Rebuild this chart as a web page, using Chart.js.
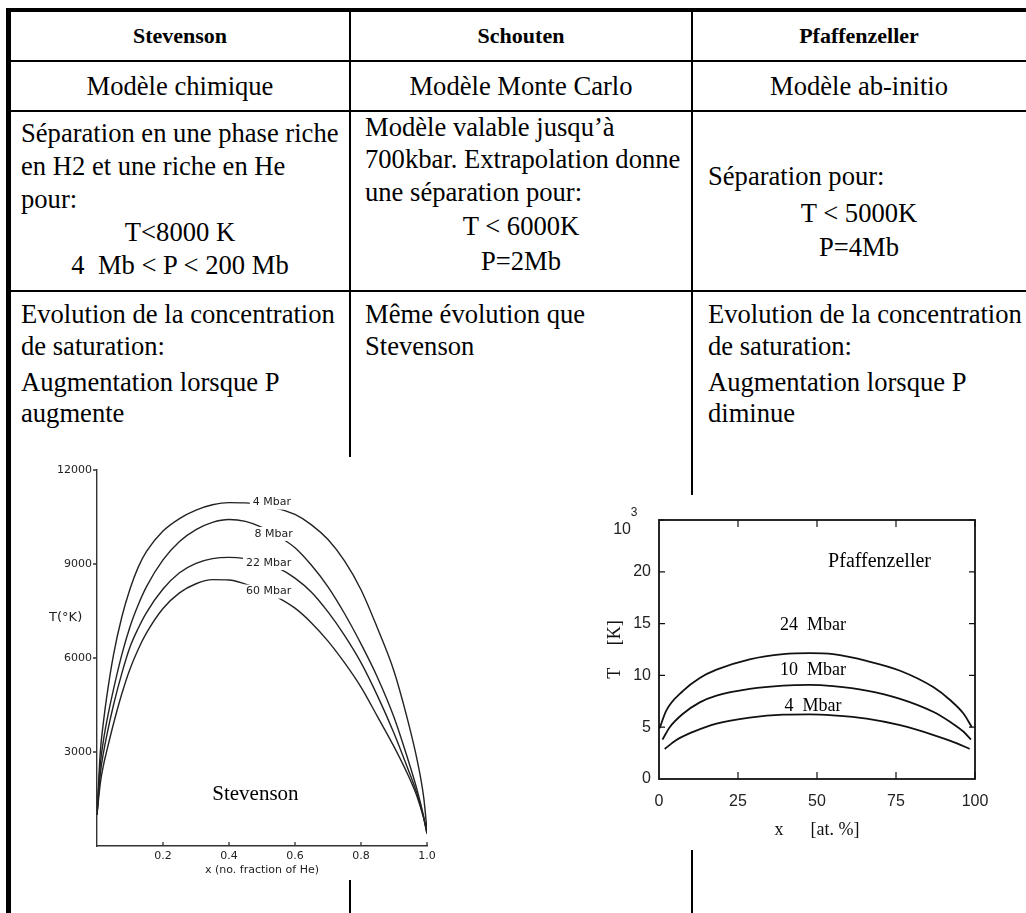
<!DOCTYPE html>
<html>
<head>
<meta charset="utf-8">
<script src="https://cdn.jsdelivr.net/npm/chart.js@4.4.1/dist/chart.umd.min.js"></script>
<style>
  body { margin: 0; background: #fff; }
  #page { position: relative; width: 1026px; height: 913px; overflow: hidden;
          font-family: "Liberation Serif", "Times New Roman", serif; font-size: 26.6px; color: #000; }
  .ln { position: absolute; background: #000; }
  .t { position: absolute; white-space: pre; line-height: 30px; height: 30px; }
  .c { transform: translateX(-50%); }
  .b { font-weight: bold; font-size: 22px; }
  canvas { position: absolute; background: #fff; }
</style>
</head>
<body>
<div id="page">
  <!-- table frame -->
  <div class="ln" style="left:6px;top:8px;width:1020px;height:4px"></div>
  <div class="ln" style="left:6px;top:8px;width:5px;height:905px"></div>
  <div class="ln" style="left:11px;top:60px;width:1015px;height:2px"></div>
  <div class="ln" style="left:11px;top:110px;width:1015px;height:2px"></div>
  <div class="ln" style="left:11px;top:290px;width:1015px;height:2px"></div>
  <div class="ln" style="left:349px;top:12px;width:2px;height:901px"></div>
  <div class="ln" style="left:691px;top:12px;width:2px;height:901px"></div>

  <div class="t c b" style="left:180px;top:21px">Stevenson</div>
  <div class="t c b" style="left:521px;top:21px">Schouten</div>
  <div class="t c b" style="left:859px;top:21px">Pfaffenzeller</div>

  <div class="t c" style="left:180px;top:71px">Modèle chimique</div>
  <div class="t c" style="left:521px;top:71px">Modèle Monte Carlo</div>
  <div class="t c" style="left:859px;top:71px">Modèle ab-initio</div>

  <div class="t" style="left:21px;top:118px">Séparation en une phase riche</div>
  <div class="t" style="left:21px;top:151px">en H2 et une riche en He</div>
  <div class="t" style="left:21px;top:184px">pour:</div>
  <div class="t c" style="left:180px;top:217px">T&lt;8000 K</div>
  <div class="t c" style="left:180px;top:250px">4  Mb &lt; P &lt; 200 Mb</div>

  <div class="t" style="left:365px;top:112px">Modèle valable jusqu’à</div>
  <div class="t" style="left:365px;top:144px">700kbar. Extrapolation donne</div>
  <div class="t" style="left:365px;top:177px">une séparation pour:</div>
  <div class="t c" style="left:521px;top:211px">T &lt; 6000K</div>
  <div class="t c" style="left:521px;top:246px">P=2Mb</div>

  <div class="t" style="left:708px;top:161px">Séparation pour:</div>
  <div class="t c" style="left:859px;top:198px">T &lt; 5000K</div>
  <div class="t c" style="left:859px;top:232px">P=4Mb</div>

  <div class="t" style="left:21px;top:299px">Evolution de la concentration</div>
  <div class="t" style="left:21px;top:331px">de saturation:</div>
  <div class="t" style="left:21px;top:367px">Augmentation lorsque P</div>
  <div class="t" style="left:21px;top:398px">augmente</div>

  <div class="t" style="left:365px;top:299px">Même évolution que</div>
  <div class="t" style="left:365px;top:331px">Stevenson</div>

  <div class="t" style="left:708px;top:299px">Evolution de la concentration</div>
  <div class="t" style="left:708px;top:331px">de saturation:</div>
  <div class="t" style="left:708px;top:367px">Augmentation lorsque P</div>
  <div class="t" style="left:708px;top:398px">diminue</div>

  <canvas id="stevChart" width="446" height="423" style="left:14px;top:457px"></canvas>
  <canvas id="pfaffChart" width="435" height="355" style="left:575px;top:495px"></canvas>
</div>

<script>
// Stevenson: T (K) vs x (no. fraction of He)
const stevX = [0, 0.01, 0.02, 0.03, 0.05, 0.075, 0.1, 0.125, 0.15, 0.2, 0.25, 0.3, 0.35, 0.4, 0.45, 0.5, 0.55, 0.6, 0.65, 0.7, 0.75, 0.8, 0.85, 0.9, 0.94, 0.97, 0.99, 1.0];
const stev4Mbar  = [1000, 3000, 4000, 4800, 6100, 7300, 8200, 8900, 9400, 10050, 10450, 10720, 10890, 10960, 10950, 10880, 10760, 10580, 10250, 9780, 9100, 8180, 6950, 5580, 4080, 2750, 1550, 500];
const stev8Mbar  = [1000, 2600, 3400, 4000, 5000, 6100, 7000, 7700, 8280, 9130, 9720, 10100, 10330, 10420, 10360, 10170, 9880, 9520, 8960, 8270, 7420, 6450, 5380, 4110, 2840, 1790, 940, 400];
const stev22Mbar = [1000, 2300, 3000, 3550, 4500, 5500, 6350, 6950, 7450, 8200, 8720, 9020, 9170, 9210, 9170, 9060, 8870, 8550, 8100, 7470, 6720, 5850, 4790, 3600, 2520, 1660, 900, 400];
const stev60Mbar = [1000, 2000, 2600, 3050, 3900, 4850, 5650, 6280, 6800, 7580, 8080, 8370, 8500, 8490, 8360, 8180, 7920, 7590, 7120, 6540, 5850, 5070, 4130, 3170, 2320, 1570, 880, 400];

// Pfaffenzeller: T (10^3 K) vs x (at. %)
const pfaff24X = [0.2, 2.3, 7.6, 12.9, 18.2, 28.7, 39.3, 47.7, 55.1, 65.7, 76.3, 86.9, 92.2, 96.4, 99.0];
const pfaff24T = [4.9, 6.6, 8.5, 9.75, 10.55, 11.55, 12.05, 12.15, 12.05, 11.4, 10.45, 8.85, 7.6, 6.3, 5.0];
const pfaff10X = [1.1, 3.4, 7.6, 12.9, 18.2, 28.7, 39.3, 47.7, 55.1, 65.7, 76.3, 86.9, 92.2, 96.4, 98.7];
const pfaff10T = [3.8, 5.0, 6.3, 7.4, 8.05, 8.7, 9.02, 9.08, 8.96, 8.54, 7.74, 6.47, 5.5, 4.56, 3.8];
const pfaff4X  = [1.8, 5.5, 10.8, 18.2, 28.7, 39.3, 47.7, 55.1, 65.7, 76.3, 86.9, 94.3, 98.3];
const pfaff4T  = [2.9, 3.76, 4.55, 5.35, 5.93, 6.21, 6.24, 6.14, 5.83, 5.19, 4.24, 3.44, 2.9];

const toPoints = (xs, ys) => xs.map((x, i) => ({ x: x, y: ys[i] }));

// tick marks drawn by hand so they can point into the plot
const tickMarks = {
  id: 'tickMarks',
  afterDraw(chart, args, opts) {
    const { ctx, chartArea: a, scales: { x, y } } = chart;
    ctx.save();
    ctx.strokeStyle = opts.color;
    ctx.lineWidth = opts.width;
    ctx.beginPath();
    x.ticks.forEach(t => {
      if (t.value <= x.min) return;
      const px = x.getPixelForValue(t.value);
      ctx.moveTo(px, a.bottom); ctx.lineTo(px, a.bottom - opts.xLen);
      if (opts.mirror) { ctx.moveTo(px, a.top); ctx.lineTo(px, a.top + opts.xLen); }
    });
    y.ticks.forEach(t => {
      if (t.value <= y.min) return;
      const py = y.getPixelForValue(t.value);
      ctx.moveTo(a.left, py); ctx.lineTo(a.left + opts.yLen, py);
      if (opts.mirror) { ctx.moveTo(a.right, py); ctx.lineTo(a.right - opts.yLen, py); }
    });
    ctx.stroke();
    if (opts.frame) {
      ctx.lineWidth = opts.frame;
      ctx.strokeRect(a.left, a.top, a.right - a.left, a.bottom - a.top);
    }
    ctx.restore();
  }
};

// text placed in data coordinates
const plotText = {
  id: 'plotText',
  afterDatasetsDraw(chart, args, opts) {
    const { ctx, scales: { x, y } } = chart;
    ctx.save();
    ctx.textBaseline = 'middle';
    (opts.items || []).forEach(it => {
      ctx.font = it.font;
      const px = x.getPixelForValue(it.x);
      const py = y.getPixelForValue(it.y);
      ctx.textAlign = it.align || 'center';
      if (it.bg) {
        const w = ctx.measureText(it.text).width;
        ctx.fillStyle = '#fff';
        ctx.fillRect(px - w / 2 - 3, py - 7, w + 6, 14);
      }
      ctx.fillStyle = it.color || '#000';
      ctx.fillText(it.text, px, py);
    });
    ctx.restore();
  }
};

const sans = "'DejaVu Sans', sans-serif";
const serif = "'Liberation Serif', 'Times New Roman', serif";

const stevLine = (data) => ({
  data: data, borderColor: '#222', borderWidth: 1.4, pointRadius: 0,
  cubicInterpolationMode: 'monotone', fill: false
});

new Chart(document.getElementById('stevChart'), {
  type: 'line',
  data: {
    datasets: [
      stevLine(toPoints(stevX, stev4Mbar)),
      stevLine(toPoints(stevX, stev8Mbar)),
      stevLine(toPoints(stevX, stev22Mbar)),
      stevLine(toPoints(stevX, stev60Mbar))
    ]
  },
  options: {
    responsive: false,
    animation: false,
    events: [],
    layout: { padding: { left: 0, top: 13, right: 33, bottom: 0 } },
    plugins: {
      legend: { display: false },
      tooltip: { enabled: false },
      tickMarks: { color: '#333', width: 1.3, xLen: 4, yLen: -4 },
      plotText: {
        items: [
          { text: '4 Mbar', x: 0.53, y: 10960, font: '11px ' + sans, bg: true, color: '#222' },
          { text: '8 Mbar', x: 0.535, y: 9960, font: '11px ' + sans, bg: true, color: '#222' },
          { text: '22 Mbar', x: 0.52, y: 9030, font: '11px ' + sans, bg: true, color: '#222' },
          { text: '60 Mbar', x: 0.52, y: 8120, font: '11px ' + sans, bg: true, color: '#222' },
          { text: 'T(°K)', x: -0.095, y: 7280, font: '13px ' + sans, color: '#222' },
          { text: 'Stevenson', x: 0.48, y: 1650, font: '21px ' + serif, color: '#000' }
        ]
      }
    },
    scales: {
      x: {
        type: 'linear', min: 0, max: 1,
        grid: { display: false, drawTicks: false },
        border: { display: true, color: '#333', width: 1.4 },
        ticks: {
          stepSize: 0.2, padding: 4, color: '#222', font: { family: sans, size: 11 },
          callback: v => v === 0 ? '' : v.toFixed(1)
        },
        title: { display: true, text: 'x (no. fraction of He)', color: '#222',
                 font: { family: sans, size: 11 }, padding: { top: 0, bottom: 3 } },
        afterFit: s => { s.height = 34; }
      },
      y: {
        min: 0, max: 12000,
        grid: { display: false, drawTicks: false },
        border: { display: true, color: '#333', width: 1.4 },
        ticks: {
          stepSize: 3000, padding: 5, color: '#222', font: { family: sans, size: 11 },
          callback: v => v === 0 ? '' : v
        },
        afterFit: s => { s.width = 83; }
      }
    }
  },
  plugins: [tickMarks, plotText]
});

const pfaffLine = (data) => ({
  data: data, borderColor: '#111', borderWidth: 1.8, pointRadius: 0,
  cubicInterpolationMode: 'monotone', fill: false
});

new Chart(document.getElementById('pfaffChart'), {
  type: 'line',
  data: {
    datasets: [
      pfaffLine(toPoints(pfaff24X, pfaff24T)),
      pfaffLine(toPoints(pfaff10X, pfaff10T)),
      pfaffLine(toPoints(pfaff4X, pfaff4T))
    ]
  },
  options: {
    responsive: false,
    animation: false,
    events: [],
    layout: { padding: { left: 0, top: 25, right: 35, bottom: 0 } },
    plugins: {
      legend: { display: false },
      tooltip: { enabled: false },
      tickMarks: { color: '#111', width: 1.2, xLen: 7, yLen: 6, mirror: true, frame: 1.8 },
      plotText: {
        items: [
          { text: 'Pfaffenzeller', x: 69.8, y: 21, font: '20px ' + serif },
          { text: '24  Mbar', x: 48.7, y: 14.85, font: '18px ' + serif },
          { text: '10  Mbar', x: 48.7, y: 10.45, font: '18px ' + serif },
          { text: '4  Mbar', x: 48.7, y: 7.0, font: '18px ' + serif },
          { text: '10', x: -11.7, y: 24.1, font: '16px ' + "'Liberation Sans', sans-serif", color: '#222' },
          { text: '3', x: -7.9, y: 25.7, font: '12px ' + "'Liberation Sans', sans-serif", color: '#222' }
        ]
      }
    },
    scales: {
      x: {
        type: 'linear', min: 0, max: 100,
        grid: { display: false, drawTicks: false },
        border: { display: false },
        ticks: {
          stepSize: 25, padding: 13, color: '#222',
          font: { family: "'Liberation Sans', sans-serif", size: 16 }
        },
        title: { display: true, text: 'x      [at. %]', color: '#111',
                 font: { family: serif, size: 18 }, padding: { top: 0, bottom: 9 } },
        afterFit: s => { s.height = 71; }
      },
      y: {
        min: 0, max: 25,
        grid: { display: false, drawTicks: false },
        border: { display: false },
        ticks: {
          stepSize: 5, padding: 8, color: '#222',
          font: { family: "'Liberation Sans', sans-serif", size: 16 },
          callback: v => v === 25 ? '' : v
        },
        title: { display: true, text: 'T     [K]', color: '#111',
                 font: { family: serif, size: 18 }, padding: { top: 29, bottom: 0 } },
        afterFit: s => { s.width = 84; }
      }
    }
  },
  plugins: [tickMarks, plotText]
});
</script>
</body>
</html>
